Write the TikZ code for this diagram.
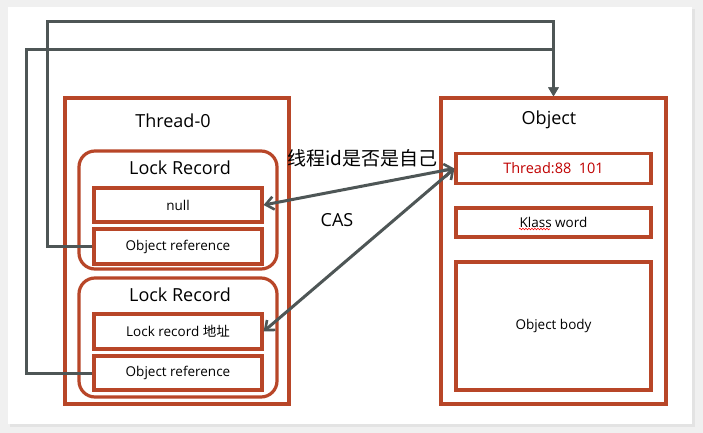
\documentclass[tikz,border=0pt]{standalone}
\usepackage{fontspec}
\setmainfont{Open Sans}
\newfontfamily\cjk{Noto Sans CJK SC}
\usetikzlibrary{arrows.meta,decorations.pathmorphing}
\definecolor{boxred}{RGB}{184,70,40}
\definecolor{linegray}{RGB}{78,86,86}
\definecolor{txtred}{RGB}{192,0,0}
\definecolor{pagegray}{RGB}{240,240,240}
\begin{document}
\begin{tikzpicture}[x=1pt, y=-1pt,
        box/.style={draw=boxred, line width=3.2pt, inner sep=0pt},
        rbox/.style={box, rounded corners=16pt},
        conn/.style={draw=linegray, line width=3pt},
        big/.style={font=\fontsize{18}{21}\selectfont},
        small/.style={font=\fontsize{13.5}{16}\selectfont},
        barbtip/.tip={Straight Barb[length=8pt, width=13pt, line width=2.6pt]}]
            \useasboundingbox (0,0) rectangle (703,433);
            \fill[pagegray] (0,0) rectangle (703,433);
            \fill[gray!22] (10,9) rectangle (695,427);
            \fill[white] (8,7) rectangle (692,424);
            \node[box, minimum width=224, minimum height=306] (thread) at (177,251) {};
            \node[box, minimum width=225, minimum height=306] (obj) at (553.5,251) {};
            \node[big] (threadtitle) at (173,121) {Thread-0};
            \node[big] (objtitle) at (549,120) {Object};
            \node[rbox, minimum width=198, minimum height=118] (lr1) at (178,210) {};
            \node[rbox, minimum width=198, minimum height=119] (lr2) at (178,337.5) {};
            \node[big] (lr1title) at (180,168) {Lock Record};
            \node[big] (lr2title) at (180,295) {Lock Record};
            \node[box, small, minimum width=168, minimum height=34] (null) at (178,205) {null};
            \node[box, small, minimum width=168, minimum height=35] (objref1) at (178,246.5) {Object reference};
            \node[box, small, minimum width=168, minimum height=35] (lraddr) at (178,331.5) {Lock record {\cjk 地址}};
            \node[box, small, minimum width=168, minimum height=34] (objref2) at (178,373) {Object reference};
            \node[box, minimum width=195, minimum height=30, text=txtred, font=\fontsize{14.5}{17}\selectfont] (tid) at (553.5,168.5) {Thread:88\ \ 101};
            \node[box, small, minimum width=195, minimum height=29] (klass) at (553.5,222.5) {Klass word};
            \node[box, small, minimum width=195, minimum height=128] (body) at (553.5,326) {Object body};
            \node[font=\cjk\fontsize{19}{22}\selectfont] (check) at (362,158) {线程id是否是自己};
            \node[big] (cas) at (337,220) {CAS};
            \draw[red, line width=0.6pt, decorate, decoration={snake, amplitude=0.8pt, segment length=3pt}] (519,229) -- (550,229);
            \coordinate (top1) at (47,22);
            \coordinate (top2) at (26,50);
            \draw[conn, -{Triangle[length=9pt, width=10pt]}] (objref1.west) -| (top1) -| (obj.north);
            \draw[conn, -{Triangle[length=9pt, width=10pt]}] (objref2.west) -| (top2) -| (obj.north);
            \draw[conn, barbtip-barbtip] (null.east) -- (tid.west);
            \draw[conn, barbtip-barbtip] (lraddr.east) -- (tid.west);
        \end{tikzpicture}
\end{document}
